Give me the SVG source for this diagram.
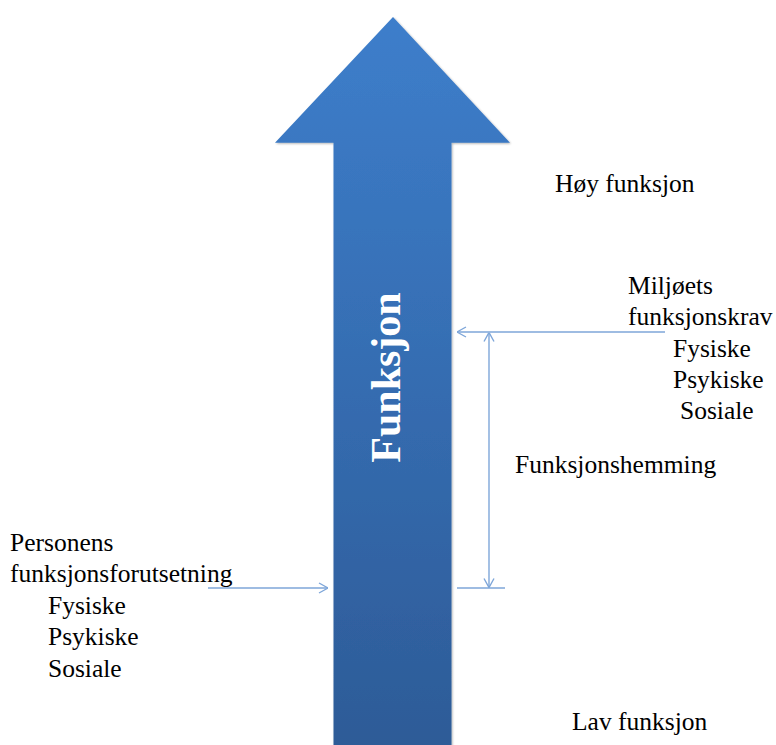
<svg xmlns="http://www.w3.org/2000/svg" width="776" height="745" viewBox="0 0 776 745">
  <style>
    .t { font-family: 'Liberation Serif', 'Times New Roman', serif; font-size: 25.5px; fill: #000000; }
    .c { stroke: #7ea6d9; stroke-width: 1.4; fill: none; }
  </style>
  <defs>
    <linearGradient id="g" x1="0" y1="0" x2="0" y2="1">
      <stop offset="0" stop-color="#3d7ecb"/>
      <stop offset="1" stop-color="#2d5b97"/>
    </linearGradient>
    <marker id="ah" viewBox="0 0 10 12" refX="10" refY="6" markerWidth="10" markerHeight="12" markerUnits="userSpaceOnUse" orient="auto-start-reverse">
      <path d="M1,1 L10,6 L1,11" fill="none" stroke="#7ea6d9" stroke-width="1.4"/>
    </marker>
    <filter id="sh" x="-10%" y="-10%" width="120%" height="120%">
      <feGaussianBlur in="SourceAlpha" stdDeviation="1.2"/>
      <feOffset dx="0.5" dy="1" result="b"/>
      <feComponentTransfer><feFuncA type="linear" slope="0.3"/></feComponentTransfer>
      <feMerge><feMergeNode/><feMergeNode in="SourceGraphic"/></feMerge>
    </filter>
  </defs>
  <rect width="776" height="745" fill="#ffffff"/>

  <g id="arrow-funksjon">
    <path d="M393,17 L510,142.7 L451.5,142.7 L451.5,748 L333.5,748 L333.5,142.7 L275,142.7 Z" fill="url(#g)" filter="url(#sh)"/>
    <text x="400" y="377.5" transform="rotate(-90 400 377.5)" text-anchor="middle" font-family="Liberation Serif, Times New Roman, serif" font-size="42" font-weight="bold" fill="#ffffff">Funksjon</text>
  </g>

  <g font-family="Liberation Serif, Times New Roman, serif" font-size="25.5">
  <g id="hoy-funksjon">
    <text class="t" x="555" y="192">Høy funksjon</text>
  </g>

  <g id="lav-funksjon">
    <text class="t" x="572" y="730">Lav funksjon</text>
  </g>

  <g id="miljoets-funksjonskrav">
    <text class="t" x="628" y="294">Miljøets</text>
    <text class="t" x="628" y="325">funksjonskrav</text>
    <text class="t" x="673" y="357">Fysiske</text>
    <text class="t" x="673" y="388">Psykiske</text>
    <text class="t" x="680" y="419">Sosiale</text>
  </g>

  <g id="funksjonshemming">
    <text class="t" x="515" y="473">Funksjonshemming</text>
  </g>

  <g id="personens-funksjonsforutsetning">
    <text class="t" x="10" y="551">Personens</text>
    <text class="t" x="10" y="582">funksjonsforutsetning</text>
    <text class="t" x="48" y="614">Fysiske</text>
    <text class="t" x="48" y="645">Psykiske</text>
    <text class="t" x="48" y="677">Sosiale</text>
  </g>
  </g>

  <g id="connectors">
    <line class="c" x1="665" y1="332" x2="457" y2="332" marker-end="url(#ah)"/>
    <line class="c" x1="489" y1="332.5" x2="489" y2="587.5" marker-start="url(#ah)" marker-end="url(#ah)"/>
    <line class="c" x1="457" y1="588" x2="505" y2="588"/>
    <line class="c" x1="208" y1="588" x2="328" y2="588" marker-end="url(#ah)"/>
  </g>
</svg>
